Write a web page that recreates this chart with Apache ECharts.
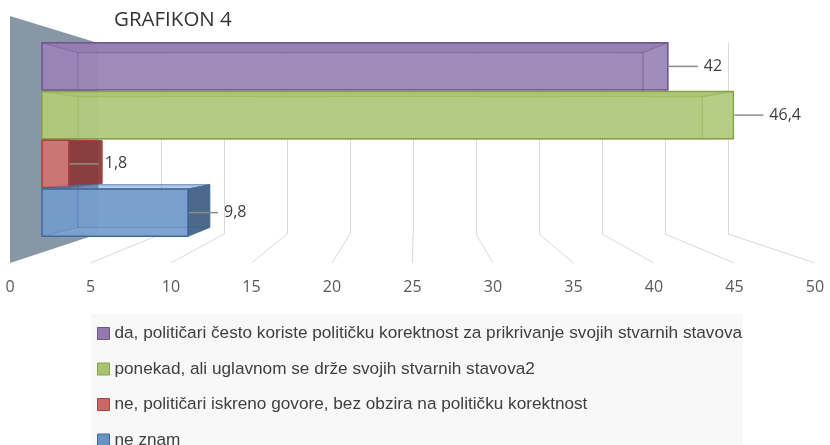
<!DOCTYPE html>
<html>
<head>
<meta charset="utf-8">
<script src="https://cdn.jsdelivr.net/npm/echarts@6/dist/echarts.min.js"></script>
<style>html,body{margin:0;padding:0;background:#fff}#c{width:830px;height:445px}</style>
</head>
<body>
<div id="c"></div>
<script>
// ---- data ----
const titleText = 'GRAFIKON 4';
const categories = [
  'da, političari često koriste političku korektnost za prikrivanje svojih stvarnih stavova',
  'ponekad, ali uglavnom se drže svojih stvarnih stavova2',
  'ne, političari iskreno govore, bez obzira na političku korektnost',
  'ne znam'
];
const values = [42, 46.4, 1.8, 9.8];
const axisMin = 0, axisMax = 50, axisStep = 5;

// ---- styles ----
const baseColors = ['#8064A2', '#9BBB59', '#C0504D', '#4F81BD'];
const strokeColors = ['#6f558f', '#86a34a', '#a84341', '#40699b'];
const sideColors = ['#5f4a7a', '#6f8a3e', '#8a3735', '#3f5d82'];
const K = 0.903, PX = 412, PY = 145; // perspective of bar depth
const legendFamily = '"Liberation Sans Narrow", "Liberation Sans", sans-serif';

function rgba(hex, a) {
  const n = parseInt(hex.slice(1), 16);
  return 'rgba(' + (n >> 16) + ',' + ((n >> 8) & 255) + ',' + (n & 255) + ',' + a + ')';
}
function proj(x, y) { return [PX + (x - PX) * K, PY + (y - PY) * K]; }
function fmt(v) { return String(v).replace('.', ','); }
function fitSize(text, family, target) {
  const ctx = document.createElement('canvas').getContext('2d');
  ctx.font = '100px ' + family;
  return Math.round(1000 * target / ctx.measureText(text).width) / 10;
}
const legendFont = fitSize(categories[0], legendFamily, 628);

function makeRender(i) {
  return function (params, api) {
    const v = api.value(0), c = api.value(1);
    const p1 = api.coord([v, c]);
    const p0 = api.coord([0, c]);
    const h = api.size([0, 1])[1] * 0.97;
    const xL = p0[0], xR = p1[0], yT = p1[1] - h / 2, yB = p1[1] + h / 2, cy = p1[1];
    const bTL = proj(xL, yT), bTR = proj(xR, yT), bBL = proj(xL, yB), bBR = proj(xR, yB);
    const base = baseColors[i], strk = strokeColors[i];
    const ch = [];
    // underlay
    ch.push({type: 'rect', shape: {x: xL, y: yT, width: xR - xL, height: yB - yT},
      style: {fill: 'rgba(255,255,255,0.88)'}});
    // back face
    ch.push({type: 'polygon', shape: {points: [bTL, bTR, bBR, bBL]},
      style: {fill: rgba(base, 0.12), stroke: rgba(strk, 0.45), lineWidth: 1}});
    // left face
    ch.push({type: 'polygon', shape: {points: [[xL, yT], bTL, bBL, [xL, yB]]},
      style: {fill: rgba(base, 0.18), stroke: rgba(strk, 0.35), lineWidth: 1}});
    // top face
    ch.push({type: 'polygon', shape: {points: [[xL, yT], [xR, yT], bTR, bTL]},
      style: {fill: rgba(base, 0.35), stroke: rgba(strk, 0.5), lineWidth: 1}});
    // right face
    const outside = bTR[0] > xR;
    ch.push({type: 'polygon', shape: {points: [[xR, yT], bTR, bBR, [xR, yB]]},
      style: {fill: outside ? rgba(sideColors[i], 0.92) : rgba(base, 0.05), stroke: rgba(strk, outside ? 0.9 : 0.5), lineWidth: 1}});
    // front face
    ch.push({type: 'rect', shape: {x: xL, y: yT, width: xR - xL, height: yB - yT},
      style: {fill: rgba(base, 0.72), stroke: strk, lineWidth: 1.5}});
    // leader line + label
    ch.push({type: 'line', shape: {x1: xR + 1, y1: cy, x2: xR + 30, y2: cy},
      style: {stroke: '#8c8c8c', lineWidth: 1.5}});
    ch.push({type: 'text', style: {text: fmt(v), x: xR + 36, y: cy, align: 'left', verticalAlign: 'middle',
      fontSize: 16, fontFamily: 'Open Sans', fill: '#404040'}});
    return {type: 'group', children: ch};
  };
}

const chart = echarts.init(document.getElementById('c'), null, {renderer: 'canvas'});
const series = categories.map((name, i) => ({
  name: name,
  type: 'custom',
  xAxisIndex: 0,
  yAxisIndex: 0,
  z: 3,
  itemStyle: {color: baseColors[i], borderColor: strokeColors[i]},
  renderItem: makeRender(i),
  encode: {x: 0, y: 1},
  data: [[values[i], i]]
}));

chart.setOption({
  animation: false,
  title: {text: titleText, left: 114, top: 10, padding: 0,
    textStyle: {fontSize: 20.5, fontWeight: 'normal', fontFamily: 'Open Sans', color: '#333'}},
  legend: {
    orient: 'vertical', left: 97, top: 325, padding: 0, itemGap: 18.5, height: 125,
    itemWidth: 12, itemHeight: 12, icon: 'rect', selectedMode: false,
    textStyle: {fontSize: legendFont, lineHeight: 16, fontFamily: legendFamily, color: '#404040'},
    data: categories.map((n, i) => ({name: n, itemStyle: {color: rgba(baseColors[i], 0.85), borderColor: strokeColors[i], borderWidth: 1}}))
  },
  grid: [
    {left: 42, width: 745, top: 42, height: 195},
    {left: 98, width: 630, top: 43, height: 191},
    {left: 10, width: 805, top: 262, height: 1}
  ],
  xAxis: [
    {gridIndex: 0, type: 'value', min: axisMin, max: axisMax, interval: axisStep, show: false},
    {gridIndex: 1, type: 'value', min: axisMin, max: axisMax, interval: axisStep,
      axisLine: {show: false}, axisTick: {show: false}, axisLabel: {show: false},
      splitLine: {show: true, lineStyle: {color: '#d9d9d9', width: 1}}},
    {gridIndex: 2, type: 'value', min: axisMin, max: axisMax, interval: axisStep,
      axisLine: {show: false}, axisTick: {show: false}, splitLine: {show: false},
      axisLabel: {show: true, margin: 16, fontSize: 16, fontFamily: 'Open Sans', color: '#595959', showMinLabel: true, showMaxLabel: true}}
  ],
  yAxis: [
    {gridIndex: 0, type: 'category', data: categories, inverse: true, show: false},
    {gridIndex: 1, type: 'value', show: false},
    {gridIndex: 2, type: 'value', show: false}
  ],
  series: series
});

// walls / floor derived from the axes
const g = [];
const bx = v => chart.convertToPixel({xAxisIndex: 1}, v);
const fx = v => chart.convertToPixel({xAxisIndex: 2}, v);
const backTop = 43, backBot = 234, frontBot = 263, frontTop = 16;
g.push({type: 'rect', z: 0, shape: {x: 91, y: 314, width: 652, height: 140}, style: {fill: '#f8f8f8'}});
g.push({type: 'polygon', z: 1, shape: {points: [[fx(axisMin), frontTop], [bx(axisMin), backTop], [bx(axisMin), backBot], [fx(axisMin), frontBot]]},
  style: {fill: '#8797a6'}});
for (let v = axisMin + axisStep; v <= axisMax; v += axisStep) {
  g.push({type: 'line', z: 1, shape: {x1: bx(v), y1: backBot, x2: fx(v), y2: frontBot},
    style: {stroke: '#d9d9d9', lineWidth: 1}});
}
chart.setOption({graphic: g});
</script>
</body>
</html>
